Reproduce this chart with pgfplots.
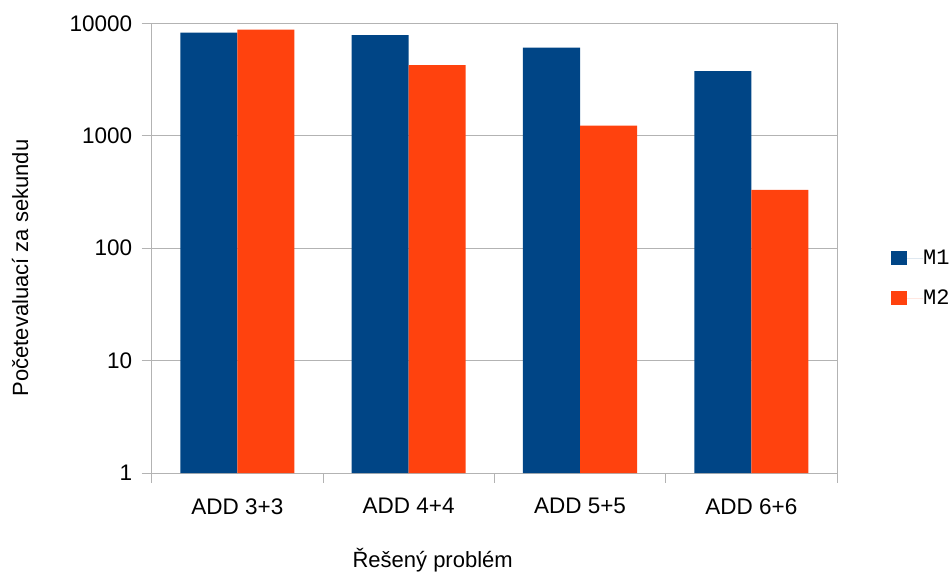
\documentclass[border=0pt]{standalone}
\usepackage{pgfplots}
\pgfplotsset{compat=1.18}
\usepackage{fontspec}
\setmainfont{Liberation Sans}
\setmonofont{Liberation Mono}
\definecolor{mblue}{HTML}{004586}
\definecolor{morange}{HTML}{FF420E}
\definecolor{gridgray}{HTML}{B3B3B3}
\begin{document}
\begin{tikzpicture}[x=1pt,y=1pt]
\path[use as bounding box] (0,0) rectangle (952,573);
\begin{axis}[
  at={(151.7pt,100pt)}, anchor=south west,
  scale only axis, width=685.3pt, height=449.7pt,
  ymode=log, ymin=1, ymax=10000,
  xmin=-0.5, xmax=3.5,
  ybar=0pt, bar width=0.333,
  xtick={0,1,2,3},
  xticklabels={ADD 3+3,ADD 4+4,ADD 5+5,ADD 6+6},
  major x tick style={draw=none},
  minor xtick={-0.5,0.5,1.5,2.5,3.5},
  ytick={1,10,100,1000,10000},
  yticklabels={1,10,100,1000,10000},
  yminorticks=false,
  tick align=outside, tick pos=left,
  major tick length=10pt, minor tick length=10pt,
  tick style={gridgray, line width=1pt},
  ymajorgrids, grid style={gridgray, line width=1pt},
  axis line style={gridgray, line width=1pt},
  /pgf/number format/assume math mode=true,
  tick label style={font=\fontsize{22.5}{22.5}\selectfont, text=black},
  xticklabel style={yshift=-12pt},
  yticklabel style={xshift=-6pt},
  label style={font=\fontsize{22}{22}\selectfont},
  xlabel={Řešený problém},
  xlabel style={at={(axis description cs:0.41,-0.193)}, anchor=center},
  ylabel={Početevaluací za sekundu},
  ylabel style={at={(axis description cs:-0.192,0.456)}, anchor=center},
  legend style={draw=none, fill=none, inner sep=0pt, row sep=24pt,
    nodes={inner sep=0pt, outer sep=0pt},
    font=\ttfamily\fontsize{22}{22}\selectfont,
    at={(axis description cs:1.0788,0.433)}, anchor=west},
  legend cell align=left,
]
\addplot[fill=mblue, draw=none,
  legend image code/.code={\fill[mblue] (0pt,-7pt) rectangle (16pt,7pt); \path (0pt,0pt) -- (32pt,0pt);}]
  coordinates {(0,8260) (1,7870) (2,6080) (3,3750)};
\addplot[fill=morange, draw=none,
  legend image code/.code={\fill[morange] (0pt,-7pt) rectangle (16pt,7pt); \path (0pt,0pt) -- (32pt,0pt);}]
  coordinates {(0,8790) (1,4240) (2,1228) (3,330)};
\legend{M1,M2}
\end{axis}
\end{tikzpicture}
\end{document}
